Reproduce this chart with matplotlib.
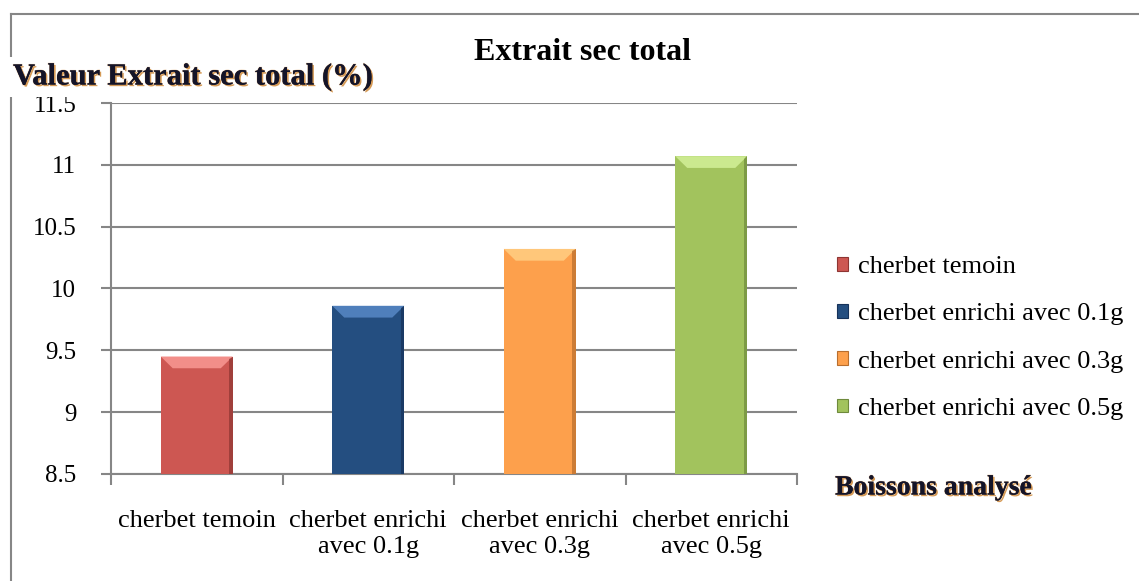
import matplotlib
matplotlib.use('Agg')
import matplotlib.pyplot as plt
import matplotlib.patheffects as pe
from matplotlib.patches import Patch, Polygon
from matplotlib.lines import Line2D
from matplotlib.ticker import FormatStrFormatter

plt.rcParams['font.family'] = ['Liberation Serif', 'DejaVu Serif']

# data
categories = ['cherbet temoin', 'cherbet enrichi\navec 0.1g',
              'cherbet enrichi\navec 0.3g', 'cherbet enrichi\navec 0.5g']
legend_labels = ['cherbet temoin', 'cherbet enrichi avec 0.1g',
                 'cherbet enrichi avec 0.3g', 'cherbet enrichi avec 0.5g']
values = [9.45, 9.86, 10.32, 11.07]
y_ticks = [8.5, 9, 9.5, 10, 10.5, 11, 11.5]

colors = ['#CD5752', '#244E80', '#FDA04C', '#A2C35D']
light = ['#F28E89', '#4F7FBB', '#FFC77A', '#CBE98F']
dark = ['#8E3532', '#16325A', '#B86E2E', '#6E8A3C']
grid_col = '#868686'

fig = plt.figure(figsize=(11.39, 5.81), dpi=100)
ax = fig.add_axes([111/1139, 1-474/581, (797-111)/1139, (474-103)/581])

x = list(range(len(values)))
w = 0.42
ax.bar(x, [v - 8.5 for v in values], bottom=8.5, width=w, color=colors, zorder=3)

# bevel on top of each bar
for i, v in enumerate(values):
    dx, dy = 0.07, 0.095
    top = Polygon([(i - w/2, v), (i + w/2, v), (i + w/2 - dx, v - dy), (i - w/2 + dx, v - dy)],
                  closed=True, facecolor=light[i], edgecolor='none', zorder=4)
    ax.add_patch(top)
    side = Polygon([(i + w/2, v), (i + w/2, 8.5), (i + w/2 - 0.02, 8.5), (i + w/2 - 0.02, v - 0.02)],
                   closed=True, facecolor=dark[i], edgecolor='none', alpha=0.7, zorder=4)
    ax.add_patch(side)

ax.set_xlim(-0.5, 3.5)
ax.set_ylim(8.5, 11.5)
ax.set_yticks(y_ticks)
ax.yaxis.set_major_formatter(FormatStrFormatter('%g'))
ax.yaxis.grid(True, color=grid_col, linewidth=1.5, zorder=0)
ax.set_axisbelow(True)

ax.set_xticks([-0.5, 0.5, 1.5, 2.5, 3.5])
ax.set_xticklabels([])
ax.set_xticks(x, minor=True)
ax.set_xticklabels(categories, minor=True, fontsize=19, linespacing=1.22)
ax.tick_params(axis='x', which='minor', length=0, pad=26)
ax.tick_params(axis='x', which='major', length=8, width=1.5, color=grid_col, direction='out')
ax.tick_params(axis='y', length=7, width=1.5, color=grid_col, labelsize=18, pad=18)

for s in ['top', 'right']:
    ax.spines[s].set_visible(False)
for s in ['left', 'bottom']:
    ax.spines[s].set_color(grid_col)
    ax.spines[s].set_linewidth(1.5)

# legend
handles = [Patch(facecolor=c, edgecolor=d, linewidth=0.8) for c, d in zip(colors, dark)]
fig.legend(handles, legend_labels, loc='center left', bbox_to_anchor=(837/1139, 1-338/581),
           frameon=False, fontsize=19, handlelength=0.4, handleheight=0.4,
           handletextpad=0.4, labelspacing=0.95, borderpad=0, borderaxespad=0)

# chart border
fig.add_artist(Line2D([11/1139, 1], [1-14/581, 1-14/581], transform=fig.transFigure,
                      color=grid_col, linewidth=1.5))
fig.add_artist(Line2D([11/1139, 11/1139], [0, 1-14/581], transform=fig.transFigure,
                      color=grid_col, linewidth=1.5))

glow = [pe.SimplePatchShadow(offset=(1.2, -1.2), shadow_rgbFace='#C8791E', alpha=0.75),
        pe.withStroke(linewidth=0.8, foreground='#D9A060', alpha=0.5), pe.Normal()]
fig.text(0.511, 1-53/581, 'Extrait sec total', fontsize=23, fontweight='bold',
         ha='center', va='center')
fig.text(13/1139, 1-77/581, 'Valeur Extrait sec total (%)', fontsize=22, fontweight='bold',
         ha='left', va='center', color='#141428', path_effects=glow, zorder=10,
         bbox=dict(facecolor='white', edgecolor='none', pad=4))
fig.text(835/1139, 1-488/581, 'Boissons analysé', fontsize=20, fontweight='bold',
         ha='left', va='center', color='#141428', path_effects=glow)

fig.savefig('out.png', dpi=100)
